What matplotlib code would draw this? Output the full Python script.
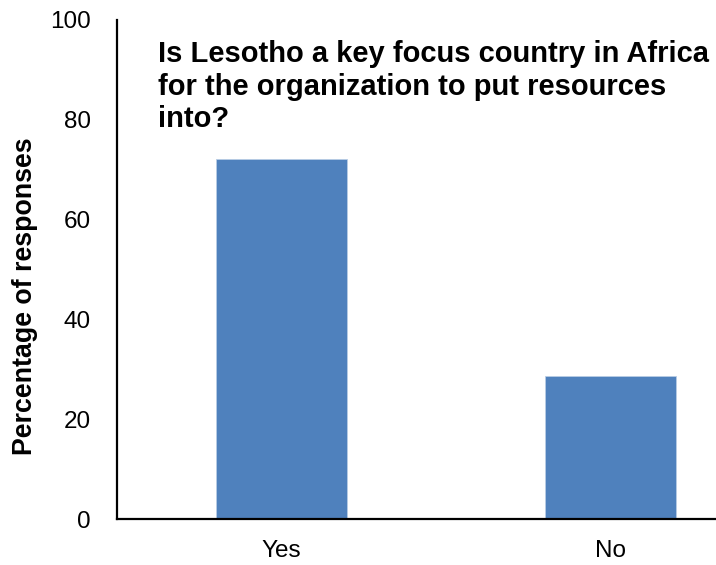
import matplotlib
matplotlib.use("Agg")
import matplotlib.pyplot as plt

# Survey responses (percentage of respondents)
categories = ["Yes", "No"]
percentages = [72.0, 28.6]
y_ticks = [0, 20, 40, 60, 80, 100]
title_lines = [
    "Is Lesotho a key focus country in Africa",
    "for the organization to put resources",
    "into?",
]
y_label = "Percentage of responses"

plt.rcParams["font.family"] = ["Liberation Sans", "DejaVu Sans"]

W, H = 716, 565
fig = plt.figure(figsize=(W / 100, H / 100), dpi=100)

# Axes placed in pixel terms; the right end runs past the canvas edge
left_px, right_px = 117.3, 775.0
top_px, bottom_px = 19.5, 519.0
ax = fig.add_axes([left_px / W, 1 - bottom_px / H,
                   (right_px - left_px) / W, (bottom_px - top_px) / H])

x = range(len(categories))
ax.bar(x, percentages, width=0.4, color="#4F81BD",
       edgecolor="#B9CDE5", linewidth=0.6, zorder=2)

ax.set_xlim(-0.5, 1.5)
ax.set_ylim(0, 100)
ax.set_yticks(y_ticks)
ax.set_xticks(list(x))
ax.set_xticklabels(categories)

for side in ("top", "right"):
    ax.spines[side].set_visible(False)
for side in ("left", "bottom"):
    ax.spines[side].set_linewidth(1.6)
    ax.spines[side].set_color("black")

ax.tick_params(axis="both", length=0, labelsize=17.5, colors="black")
ax.tick_params(axis="y", pad=19)
ax.tick_params(axis="x", pad=15)

fig.text(25 / W, 1 - 296.5 / H, y_label, rotation=90, ha="center",
         va="center", fontsize=19.3, fontweight="bold")

baselines = [61.7, 94.7, 127.3]
for line, base in zip(title_lines, baselines):
    fig.text(158.3 / W, 1 - base / H, line, ha="left", va="baseline",
             fontsize=21, fontweight="bold")

fig.savefig("out.png", dpi=100)
